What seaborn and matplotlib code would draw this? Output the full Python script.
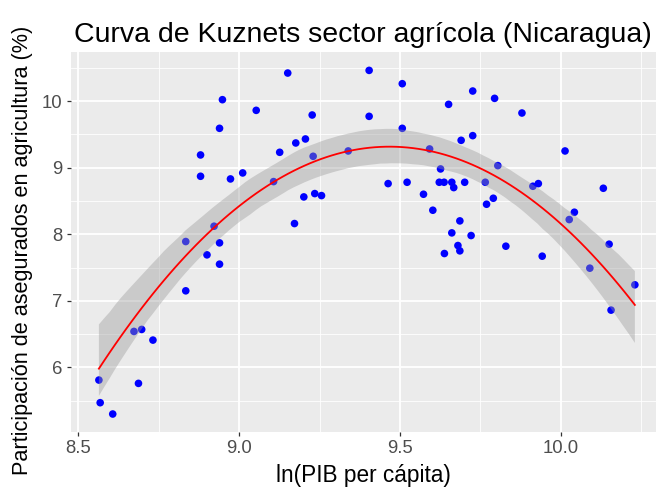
import matplotlib
matplotlib.use('Agg')
import matplotlib.pyplot as plt
from matplotlib.ticker import MultipleLocator, FormatStrFormatter
import numpy as np
import pandas as pd
import seaborn as sns

# Data
ln_pib = [9.151, 8.948, 9.053, 9.227, 8.939, 9.176, 9.206, 9.126, 9.230, 9.339,
          8.880, 8.880, 8.973, 9.011, 9.107, 9.201, 9.235, 9.256, 9.172, 8.922,
          8.834, 8.939, 8.900, 8.939, 8.834, 8.673, 8.697, 8.732, 8.564, 8.687,
          8.568, 8.607, 9.404, 9.507, 9.726, 9.651, 9.794, 9.879, 9.404, 9.507,
          9.690, 9.726, 9.592, 10.013, 9.804, 9.626, 9.463, 9.522, 9.622, 9.637,
          9.661, 9.667, 9.701, 9.765, 9.573, 9.930, 9.913, 10.132, 9.602, 9.790,
          9.769, 9.686, 10.042, 10.026, 9.661, 9.721, 9.680, 9.686, 9.638, 9.829,
          9.942, 10.150, 10.090, 10.230, 10.156]
participacion = [10.42, 10.02, 9.86, 9.79, 9.59, 9.37, 9.43, 9.23, 9.17, 9.25,
                 9.19, 8.87, 8.83, 8.92, 8.79, 8.56, 8.61, 8.58, 8.16, 8.12,
                 7.89, 7.87, 7.69, 7.55, 7.15, 6.54, 6.57, 6.41, 5.81, 5.76,
                 5.47, 5.30, 10.46, 10.26, 10.15, 9.95, 10.04, 9.82, 9.77, 9.59,
                 9.41, 9.48, 9.28, 9.25, 9.03, 8.98, 8.76, 8.78, 8.78, 8.78,
                 8.78, 8.70, 8.78, 8.78, 8.60, 8.76, 8.72, 8.69, 8.36, 8.54,
                 8.45, 8.20, 8.33, 8.22, 8.02, 7.98, 7.83, 7.75, 7.71, 7.82,
                 7.67, 7.85, 7.49, 7.24, 6.86]

x_ticks = [8.5, 9.0, 9.5, 10.0]
y_ticks = [6, 7, 8, 9, 10]

df = pd.DataFrame({'ln_pib': ln_pib, 'part': participacion})

plt.rcParams['font.family'] = ['Liberation Sans', 'DejaVu Sans']

fig = plt.figure(figsize=(6.58, 4.87), dpi=100)
ax = fig.add_axes([71 / 658, 1 - 432 / 487, 585 / 658, 380 / 487])
ax.set_facecolor('#EBEBEB')
for s in ax.spines.values():
    s.set_visible(False)

# points first, then the smooth on top (like ggplot)
sns.scatterplot(data=df, x='ln_pib', y='part', color='#0000FF', s=30,
                edgecolor='none', ax=ax, zorder=3)
sns.regplot(data=df, x='ln_pib', y='part', order=2, scatter=False, ci=95,
            seed=1, color='red', line_kws={'linewidth': 1.3, 'zorder': 5}, ax=ax)
band = ax.collections[-1]
band.set_facecolor('#999999')
band.set_alpha(0.4)
band.set_zorder(4)

ax.set_xlim(8.4773, 10.2957)
ax.set_ylim(5.03, 10.736)

ax.set_xticks(x_ticks)
ax.set_yticks(y_ticks)
ax.xaxis.set_major_formatter(FormatStrFormatter('%.1f'))
ax.xaxis.set_minor_locator(MultipleLocator(0.25))
ax.yaxis.set_minor_locator(MultipleLocator(0.5))
ax.grid(which='major', color='white', linewidth=1.3, zorder=0)
ax.grid(which='minor', color='white', linewidth=0.6, zorder=0)
ax.set_axisbelow(True)
ax.tick_params(which='major', length=3, width=0.9, color='#333333',
               labelsize=13.3, labelcolor='#4D4D4D', pad=3)
ax.tick_params(which='minor', length=0)

ax.set_xlabel('')
ax.set_ylabel('')
fig.text(0.5524, 1 - 482 / 487, 'ln(PIB per cápita)', fontsize=16.3,
         ha='center', va='baseline', color='black')
fig.text(23 / 658, 1 - 250 / 487, 'Participación de asegurados en agricultura (%)',
         fontsize=15.6, rotation=90, ha='center', va='center', color='black')
fig.text(73.5 / 658, 1 - 42 / 487, 'Curva de Kuznets sector agrícola (Nicaragua)',
         fontsize=20.5, ha='left', va='baseline', color='black')

fig.savefig('out.png', dpi=100)
